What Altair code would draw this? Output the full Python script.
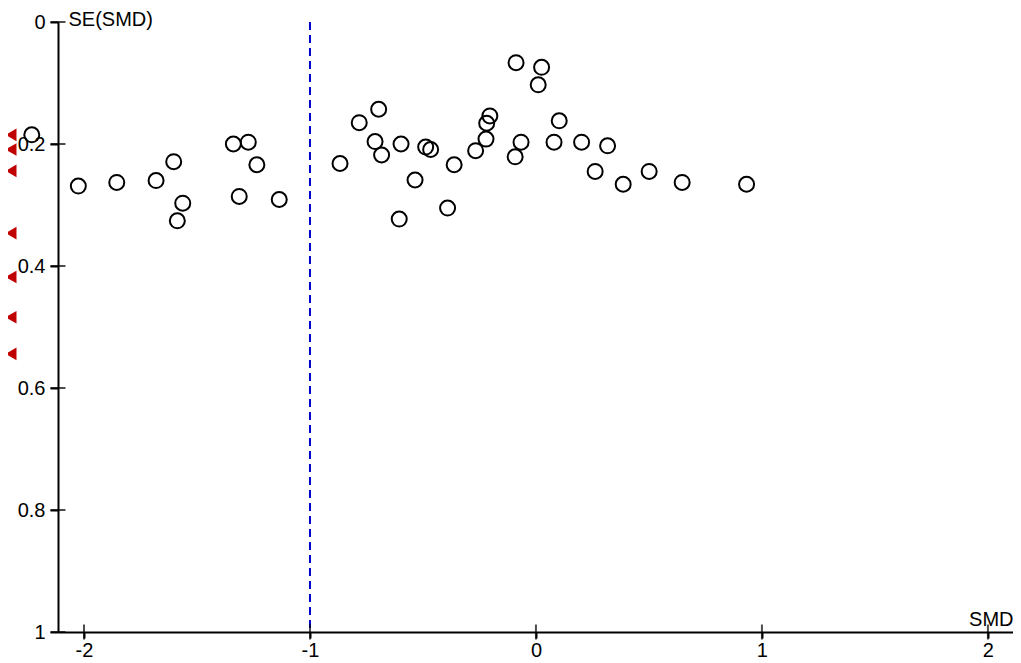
import altair as alt
import pandas as pd

# Observed studies (SMD, SE)
smd = [-2.231, -2.025, -1.855, -1.681, -1.603, -1.563, -1.587, -1.339, -1.273, -1.235, -1.313, -1.136,
       -0.867, -0.782, -0.696, -0.712, -0.683, -0.597, -0.535, -0.605, -0.488, -0.466, -0.362, -0.391,
       -0.267, -0.221, -0.218, -0.204, -0.088, 0.025, 0.010, -0.066, -0.092, 0.103, 0.080, 0.202, 0.317, 0.262,
       0.386, 0.501, 0.647, 0.932]
se = [0.185, 0.269, 0.263, 0.260, 0.229, 0.297, 0.326, 0.200, 0.197, 0.234, 0.286, 0.291,
      0.232, 0.165, 0.143, 0.196, 0.218, 0.200, 0.259, 0.323, 0.205, 0.209, 0.234, 0.305,
      0.211, 0.192, 0.166, 0.154, 0.0667, 0.0743, 0.103, 0.197, 0.221, 0.162, 0.197, 0.197, 0.203, 0.245,
      0.266, 0.245, 0.263, 0.266]

# Off-scale studies shown as markers at the left edge
se_offscale = [0.185, 0.209, 0.244, 0.346, 0.418, 0.484, 0.544]

# Pooled estimate (dashed line)
pooled = [-1.0]

x_domain = [-2.115, 2.111]
y_domain = [0, 1]
x_ticks = [-2, -1, 0, 1, 2]
y_ticks = [0, 0.2, 0.4, 0.6, 0.8, 1.0]

FONT = "Liberation Sans"
LABEL_EXPR = "'' + datum.value"

xscale = alt.Scale(domain=x_domain, nice=False, zero=False)
yscale = alt.Scale(domain=y_domain, reverse=True, nice=False, zero=False)

df = pd.DataFrame({"smd": smd, "se": se})
df_off = pd.DataFrame({"se": se_offscale})
df_pool = pd.DataFrame({"smd": pooled})
df_xt = pd.DataFrame({"smd": x_ticks})
df_yt = pd.DataFrame({"se": y_ticks})

points = alt.Chart(df).mark_point(
    shape="circle", filled=False, color="black", strokeWidth=2, size=225, opacity=1
).encode(
    x=alt.X("smd:Q", scale=xscale,
            axis=alt.Axis(values=x_ticks, labelExpr=LABEL_EXPR, title="SMD",
                          titleX=955, titleY=-7, titleAlign="right",
                          titleBaseline="alphabetic", titleAngle=0,
                          tickSize=6, labelPadding=2, labelFlush=False,
                          labelOverlap=False, grid=False)),
    y=alt.Y("se:Q", scale=yscale,
            axis=alt.Axis(values=y_ticks, labelExpr=LABEL_EXPR, title="SE(SMD)",
                          titleX=10, titleY=3, titleAlign="left",
                          titleBaseline="alphabetic", titleAngle=0,
                          tickSize=8, labelPadding=5, labelFlush=False,
                          labelOverlap=False, grid=False)),
)

pool_line = alt.Chart(df_pool).mark_rule(
    color="#0000cc", strokeWidth=2, strokeDash=[8, 5]
).encode(x=alt.X("smd:Q", scale=xscale))

offscale = alt.Chart(df_off).mark_point(
    shape="triangle-left", filled=True, color="#c00000", size=160, opacity=1
).encode(
    y=alt.Y("se:Q", scale=yscale),
    x=alt.value(-47),
)

ytick_marks = alt.Chart(df_yt).mark_tick(
    orient="horizontal", size=15, thickness=2, color="black"
).encode(
    y=alt.Y("se:Q", scale=yscale),
    x=alt.datum(x_domain[0]),
)

xtick_marks = alt.Chart(df_xt).mark_tick(
    orient="vertical", size=15, thickness=2, color="black"
).encode(
    x=alt.X("smd:Q", scale=xscale),
    y=alt.datum(y_domain[1]),
)

chart = alt.layer(pool_line, ytick_marks, xtick_marks, points, offscale).properties(
    width=955,
    height=610,
    autosize=alt.AutoSizeParams(type="none"),
    padding={"left": 50, "top": 14, "right": 0, "bottom": 32},
).configure_view(stroke=None).configure_axis(
    domainColor="black", domainWidth=2, tickColor="black", tickWidth=2,
    labelFont=FONT, labelFontSize=20, labelColor="black",
    titleFont=FONT, titleFontSize=20, titleColor="black", titleFontWeight="normal",
)

chart.save("out.html", embed_options={"renderer": "svg", "actions": False})
